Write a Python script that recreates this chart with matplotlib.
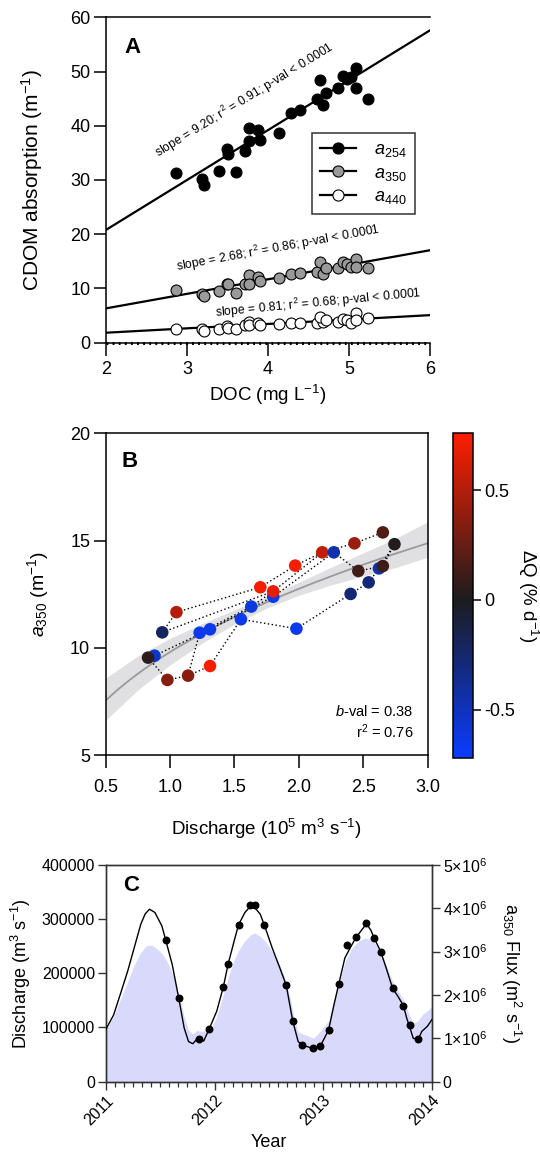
import numpy as np
import matplotlib
matplotlib.use('Agg')
import matplotlib.pyplot as plt
from matplotlib.colors import LinearSegmentedColormap, Normalize
from matplotlib.cm import ScalarMappable
from matplotlib.lines import Line2D
from matplotlib.ticker import FuncFormatter, MultipleLocator

plt.rcParams['font.family'] = ['Liberation Sans', 'DejaVu Sans']
plt.rcParams['mathtext.fontset'] = 'custom'
plt.rcParams['mathtext.rm'] = 'Liberation Sans'
plt.rcParams['mathtext.it'] = 'Liberation Sans:italic'
plt.rcParams['mathtext.bf'] = 'Liberation Sans:bold'
plt.rcParams['axes.unicode_minus'] = False

# ---------------- Panel A data ----------------
doc = [2.86, 3.19, 3.21, 3.40, 3.49, 3.51, 3.60, 3.71, 3.77, 3.77, 3.88, 3.90, 4.14,
       4.28, 4.40, 4.61, 4.68, 4.64, 4.71, 4.87, 4.92, 4.97, 5.02, 5.09, 5.09, 5.23]
a254 = [31.2, 30.2, 29.0, 31.7, 35.8, 34.8, 31.5, 35.3, 37.2, 39.6, 39.2, 37.4, 38.7,
        42.3, 42.9, 44.9, 43.8, 48.4, 46.1, 47.0, 49.2, 48.6, 48.9, 50.6, 46.9, 44.9]
a350 = [9.7, 8.9, 8.6, 9.6, 10.8, 10.8, 9.2, 10.9, 12.5, 10.9, 12.1, 11.3, 11.9,
        12.6, 12.9, 13.1, 12.7, 14.9, 13.8, 13.7, 14.9, 14.5, 14.0, 15.5, 13.9, 13.8]
a440 = [2.6, 2.5, 2.2, 2.6, 3.1, 2.8, 2.5, 3.3, 3.9, 3.3, 3.6, 3.3, 3.4,
        3.6, 3.6, 3.6, 3.9, 4.8, 4.2, 3.9, 4.3, 4.1, 3.6, 5.4, 4.1, 4.5]
fit_slopes = [9.20, 2.68, 0.81]
fit_intercepts = [2.4, 0.97, 0.22]
fit_texts = ["slope = 9.20; r$^2$ = 0.91; p-val < 0.0001",
             "slope = 2.68; r$^2$ = 0.86; p-val < 0.0001",
             "slope = 0.81; r$^2$ = 0.68; p-val < 0.0001"]
series_labels = ["$a_{254}$", "$a_{350}$", "$a_{440}$"]

# ---------------- Panel B data ----------------
q_b = [0.88, 0.83, 0.94, 1.05, 0.98, 1.14, 1.31, 1.23, 1.31, 1.55, 1.63, 1.70, 1.80,
       1.80, 1.97, 1.98, 2.18, 2.27, 2.43, 2.46, 2.40, 2.54, 2.62, 2.65, 2.65, 2.74]
a350_b = [9.63, 9.54, 10.72, 11.66, 8.50, 8.70, 9.15, 10.70, 10.86, 11.33, 11.92, 12.82, 12.38,
          12.63, 13.83, 10.89, 14.45, 14.45, 14.87, 13.58, 12.51, 13.05, 13.70, 13.81, 15.38, 14.83]
dq_b = [-0.55, 0.05, -0.2, 0.5, 0.35, 0.35, 0.72, -0.65, -0.65, -0.65, -0.62, 0.72, -0.65,
        0.68, 0.72, -0.65, 0.55, -0.45, 0.42, 0.12, -0.28, -0.3, -0.45, 0.12, 0.18, 0.02]
links_b = [(1, 4), (4, 5), (5, 6), (5, 7), (6, 9), (9, 15), (15, 20), (20, 21), (21, 22),
           (2, 3), (3, 11), (11, 14), (14, 16), (16, 18), (18, 24), (25, 23), (17, 19),
           (19, 23), (0, 8), (8, 12), (12, 17), (2, 13), (13, 16), (10, 13), (22, 25), (7, 10)]
fit_a, fit_b = 9.8, 0.38
band_x = [0.5, 0.75, 1.0, 1.25, 1.5, 1.75, 2.0, 2.25, 2.5, 2.75, 3.0]
band_lo = [6.61, 8.03, 9.20, 10.22, 11.10, 11.85, 12.45, 12.93, 13.35, 13.74, 14.23]
band_hi = [8.58, 9.62, 10.44, 11.13, 11.77, 12.39, 13.06, 13.76, 14.43, 15.10, 15.88]

# ---------------- Panel C data ----------------
line_t = [2011.00, 2011.07, 2011.13, 2011.20, 2011.26, 2011.32, 2011.36, 2011.40, 2011.45, 2011.515,
          2011.55, 2011.61, 2011.67, 2011.72, 2011.76, 2011.80, 2011.83, 2011.86, 2011.90, 2011.95,
          2012.02, 2012.08, 2012.125, 2012.18, 2012.22, 2012.28, 2012.32, 2012.37, 2012.42, 2012.46,
          2012.53, 2012.595, 2012.66, 2012.72, 2012.77, 2012.81, 2012.865, 2012.91, 2012.975, 2013.05,
          2013.10, 2013.145, 2013.20, 2013.25, 2013.30, 2013.36, 2013.40, 2013.44, 2013.47, 2013.53,
          2013.58, 2013.64, 2013.69, 2013.74, 2013.77, 2013.80, 2013.83, 2013.875, 2013.91, 2013.96,
          2014.00]
line_q = [97000, 123000, 160000, 204000, 247000, 290000, 309000, 318000, 312000, 287000,
          261000, 216000, 154000, 99000, 74000, 70000, 77000, 79000, 75000, 97000,
          130000, 174000, 217000, 259000, 289000, 312000, 321000, 321000, 309000, 288000,
          247000, 213000, 178000, 112000, 74000, 67000, 64000, 60000, 66000, 95000,
          142000, 181000, 228000, 247000, 265000, 281000, 291000, 279000, 265000, 240000,
          210000, 172000, 157000, 140000, 117000, 99000, 80000, 78000, 93000, 102000,
          114000]
flux_t = [2011.00, 2011.07, 2011.13, 2011.20, 2011.26, 2011.32, 2011.37, 2011.42, 2011.47, 2011.52,
          2011.57, 2011.62, 2011.67, 2011.72, 2011.76, 2011.80, 2011.84, 2011.88, 2011.93, 2011.97,
          2012.02, 2012.08, 2012.13, 2012.18, 2012.23, 2012.28, 2012.33, 2012.37, 2012.42, 2012.47,
          2012.53, 2012.59, 2012.64, 2012.69, 2012.73, 2012.77, 2012.81, 2012.86, 2012.91, 2012.95,
          2013.00, 2013.05, 2013.10, 2013.15, 2013.20, 2013.26, 2013.32, 2013.38, 2013.43, 2013.48,
          2013.53, 2013.58, 2013.64, 2013.69, 2013.74, 2013.79, 2013.83, 2013.87, 2013.92, 2013.97,
          2014.00]
flux_v = [1.21, 1.50, 1.88, 2.31, 2.69, 2.98, 3.13, 3.15, 3.06, 2.94,
          2.73, 2.44, 2.00, 1.50, 1.19, 1.10, 1.19, 1.15, 1.19, 1.25,
          1.50, 2.00, 2.44, 2.81, 3.06, 3.25, 3.38, 3.43, 3.35, 3.23,
          3.00, 2.75, 2.44, 2.00, 1.50, 1.15, 1.10, 1.06, 1.00, 1.10,
          1.25, 1.40, 1.88, 2.31, 2.75, 3.06, 3.23, 3.31, 3.28, 3.19,
          2.98, 2.69, 2.31, 2.10, 1.88, 1.56, 1.35, 1.40, 1.56, 1.65,
          1.73]  # x 1e6
samp_t = [2011.55, 2011.674, 2011.858, 2011.953, 2012.077, 2012.125, 2012.223, 2012.322, 2012.373,
          2012.459, 2012.659, 2012.719, 2012.808, 2012.907, 2012.973, 2013.05, 2013.145, 2013.221,
          2013.30, 2013.396, 2013.472, 2013.529, 2013.64, 2013.736, 2013.80, 2013.876]
samp_q = [261000, 154000, 79000, 97000, 174000, 217000, 289000, 325000, 325000,
          288000, 178000, 112000, 67000, 62000, 66000, 95000, 181000, 252000,
          267000, 292000, 265000, 240000, 172000, 140000, 104000, 78000]

W, H = 540, 1155
fig = plt.figure(figsize=(W / 100, H / 100), dpi=100)


def rect(l, r, t, b):
    return [l / W, (H - b) / H, (r - l) / W, (b - t) / H]


TICK = 13

# ---------------- Panel A ----------------
axA = fig.add_axes(rect(106, 430, 17.3, 342.7))
axA.set_xlim(2, 6)
axA.set_ylim(0, 60)
axA.set_xticks([2, 3, 4, 5, 6])
axA.set_yticks([0, 10, 20, 30, 40, 50, 60])
axA.spines['right'].set_visible(False)
for s in axA.spines.values():
    s.set_linewidth(1.1)
axA.tick_params(direction='out', length=9, width=1.1, labelsize=TICK, pad=2)
axA.tick_params(axis='x', pad=4)
xx = np.array([2.0, 6.0])
fcs = ['black', '#9a9a9a', 'white']
ys = [a254, a350, a440]
for k in range(3):
    axA.plot(xx, fit_slopes[k] * xx + fit_intercepts[k], color='black', lw=1.6, zorder=2)
    axA.scatter(doc, ys[k], s=62, facecolor=fcs[k], edgecolor='black', linewidth=0.8, zorder=3)
axA.axhline(0, color='black', lw=2.2, ls=(0, (0.6, 1.4)), zorder=4, clip_on=False)
axA.text(3.716, 44.75, fit_texts[0], rotation=31.5, ha='center', va='center', fontsize=8.8,
         rotation_mode='anchor')
axA.text(4.12, 17.5, fit_texts[1], rotation=10.5, ha='center', va='center', fontsize=8.8,
         rotation_mode='anchor')
axA.text(4.62, 7.35, fit_texts[2], rotation=5.5, ha='center', va='center', fontsize=8.8,
         rotation_mode='anchor')
handles = [Line2D([0], [0], color='black', lw=1.6, marker='o', markersize=8,
                  markerfacecolor=fcs[k], markeredgecolor='black', markeredgewidth=0.8)
           for k in range(3)]
leg = axA.legend(handles, series_labels, loc='upper right', bbox_to_anchor=(0.954, 0.644),
                 fontsize=13, frameon=True, fancybox=False, edgecolor='black',
                 handlelength=2.0, handletextpad=1.0, labelspacing=0.3, borderpad=0.45,
                 borderaxespad=0)
leg.get_frame().set_linewidth(1.1)
axA.text(0.083, 0.906, 'A', transform=axA.transAxes, fontsize=16, fontweight='bold',
         ha='center', va='center')
axA.set_xlabel('DOC (mg L$^{-1}$)', fontsize=13.5, labelpad=4)
axA.set_ylabel('CDOM absorption (m$^{-1}$)', fontsize=15, labelpad=18)

# ---------------- Panel B ----------------
axB = fig.add_axes(rect(105.5, 428, 433.3, 755))
axB.set_xlim(0.5, 3.0)
axB.set_ylim(5, 20)
axB.set_xticks([0.5, 1.0, 1.5, 2.0, 2.5, 3.0])
axB.set_xticklabels(['0.5', '1.0', '1.5', '2.0', '2.5', '3.0'])
axB.set_yticks([5, 10, 15, 20])
for s in axB.spines.values():
    s.set_linewidth(1.1)
axB.tick_params(direction='out', length=9, width=1.1, labelsize=TICK, pad=2)
axB.tick_params(axis='x', pad=8)
axB.fill_between(band_x, band_lo, band_hi, color='#e0e0e2', lw=0, zorder=1)
fx = np.linspace(0.5, 3.0, 200)
axB.plot(fx, fit_a * fx ** fit_b, color='#9a9a9a', lw=1.3, zorder=2)
for i, j in links_b:
    axB.plot([q_b[i], q_b[j]], [a350_b[i], a350_b[j]], color='black', lw=1.0,
             ls=(0, (1, 1.8)), zorder=3)
cmap = LinearSegmentedColormap.from_list('dq', [(0.0, '#0a3cff'), (0.72 / 1.48, '#1c1c1e'),
                                                (1.0, '#ff1e00')])
norm = Normalize(vmin=-0.72, vmax=0.76)
for i in range(len(q_b)):
    axB.scatter([q_b[i]], [a350_b[i]], s=82, color=cmap(norm(dq_b[i])), edgecolor='none',
                zorder=4 + i * 0.01)
axB.text(0.955, 0.135, '$b$-val = 0.38', transform=axB.transAxes, ha='right', va='center',
         fontsize=10.5)
axB.text(0.955, 0.072, 'r$^2$ = 0.76', transform=axB.transAxes, ha='right', va='center',
         fontsize=10.5)
axB.text(0.076, 0.911, 'B', transform=axB.transAxes, fontsize=16, fontweight='bold',
         ha='center', va='center')
axB.set_xlabel('Discharge (10$^5$ m$^3$ s$^{-1}$)', fontsize=13.5, labelpad=15)
axB.set_ylabel('$a_{350}$ (m$^{-1}$)', fontsize=14, labelpad=14)

cax = fig.add_axes(rect(453, 473, 433, 758))
cb = fig.colorbar(ScalarMappable(norm=norm, cmap=cmap), cax=cax)
cb.set_ticks([-0.5, 0, 0.5])
cb.set_ticklabels(['-0.5', '0', '0.5'])
cb.outline.set_linewidth(1.1)
cax.tick_params(labelsize=TICK, length=6, width=1.1, pad=2)
cb.set_label('ΔQ (% d$^{-1}$)', fontsize=13.5, rotation=270, labelpad=18)

# ---------------- Panel C ----------------
axC = fig.add_axes(rect(106, 431.7, 864.7, 1081.7))
axC2 = axC.twinx()
axC.set_zorder(axC2.get_zorder() + 1)
axC.patch.set_visible(False)
axC.set_xlim(2011, 2014)
axC.set_ylim(0, 400000)
axC2.set_ylim(0, 5e6)
axC2.fill_between(flux_t, 0, np.array(flux_v) * 1e6, color='#d9d9fb', lw=0)
axC.plot(line_t, line_q, color='black', lw=1.0, zorder=3)
axC.scatter(samp_t, samp_q, s=22, color='black', zorder=4)
axC.set_yticks([0, 100000, 200000, 300000, 400000])
axC.set_yticklabels(['0', '100000', '200000', '300000', '400000'])
axC.set_xticks([2011, 2012, 2013, 2014])
axC.set_xticklabels(['2011', '2012', '2013', '2014'], rotation=45, ha='right',
                    rotation_mode='anchor')
axC.xaxis.set_minor_locator(MultipleLocator(1 / 12))
axC2.set_yticks([0, 1e6, 2e6, 3e6, 4e6, 5e6])
axC2.yaxis.set_major_formatter(FuncFormatter(
    lambda v, p: '0' if v == 0 else '%d×10$^{6}$' % round(v / 1e6)))
for a in (axC, axC2):
    for s in a.spines.values():
        s.set_linewidth(1.0)
        s.set_color('#333333')
axC.tick_params(which='major', direction='out', length=6, width=1.0, labelsize=11.5, pad=2,
                color='#333333')
axC.tick_params(which='minor', direction='out', length=3.5, width=0.9, color='#333333')
axC2.tick_params(direction='out', length=6, width=1.0, labelsize=11.5, pad=2, color='#333333')
axC.text(0.077, 0.902, 'C', transform=axC.transAxes, fontsize=16, fontweight='bold',
         ha='center', va='center')
axC.set_xlabel('Year', fontsize=13, labelpad=4)
axC.set_ylabel('Discharge (m$^3$ s$^{-1}$)', fontsize=13, labelpad=6)
axC2.set_ylabel('a$_{350}$ Flux (m$^2$ s$^{-1}$)', fontsize=13, rotation=270, labelpad=26)

fig.savefig('out.png', dpi=100)
